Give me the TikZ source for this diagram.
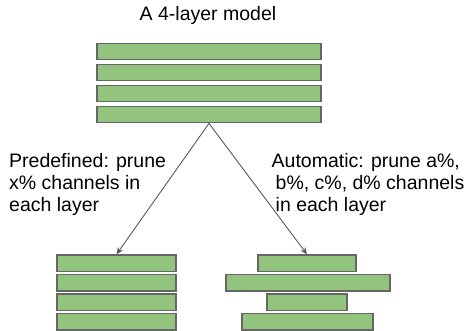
\documentclass[tikz,border=0pt]{standalone}
\usepackage{fontspec}
\setmainfont{Liberation Sans}
\usetikzlibrary{arrows.meta}
\definecolor{layergreen}{HTML}{93C47D}
\definecolor{layeredge}{HTML}{666666}
\definecolor{arrowgray}{HTML}{595959}

\tikzset{
  layer/.style={draw=layeredge, fill=layergreen, line width=1.3pt, inner sep=0pt, minimum height=16.5pt},
  prunearrow/.style={draw=arrowgray, line width=0.9pt, -{Stealth[length=7pt,width=6pt]}},
  note/.style={font=\fontsize{19.5}{22}\selectfont, align=left, inner sep=0pt, anchor=north west}
}

\begin{document}
\begin{tikzpicture}[x=1pt,y=-1pt]
\useasboundingbox (0,0) rectangle (469,331);

% Title
\node[font=\fontsize{19.5}{22}\selectfont, inner sep=0pt, anchor=base] (title) at (208,20.7) {A 4-layer model};

% Original model
\node[layer, minimum width=224pt] (top1) at (209,51.5) {};
\node[layer, minimum width=224pt] (top2) at (209,72.5) {};
\node[layer, minimum width=224pt] (top3) at (209,93.5) {};
\node[layer, minimum width=224pt] (top4) at (209,114.5) {};

% Predefined pruning
\node[layer, minimum width=119pt] (fixed1) at (116.5,263.25) {};
\node[layer, minimum width=119pt] (fixed2) at (116.5,282.75) {};
\node[layer, minimum width=119pt] (fixed3) at (116.5,302.25) {};
\node[layer, minimum width=119pt] (fixed4) at (116.5,321.75) {};

% Automatic pruning
\node[layer, minimum width=98pt] (auto1) at (307,263.25) {};
\node[layer, minimum width=164pt] (auto2) at (308,282.75) {};
\node[layer, minimum width=80pt] (auto3) at (307,302.25) {};
\node[layer, minimum width=131pt] (auto4) at (307.5,321.75) {};

% Arrows
\draw[prunearrow] (top4.south) -- (fixed1.north);
\draw[prunearrow] (top4.south) -- (auto1.north);

% Labels
\node[note] (fixedtext) at (9,153) {Predefined: prune\\x\% channels in\\each layer};
\node[note] (autotext) at (271.5,153) {Automatic: prune a\%,\\\hspace*{4pt}b\%, c\%, d\% channels\\\hspace*{4pt}in each layer};
\end{tikzpicture}
\end{document}
